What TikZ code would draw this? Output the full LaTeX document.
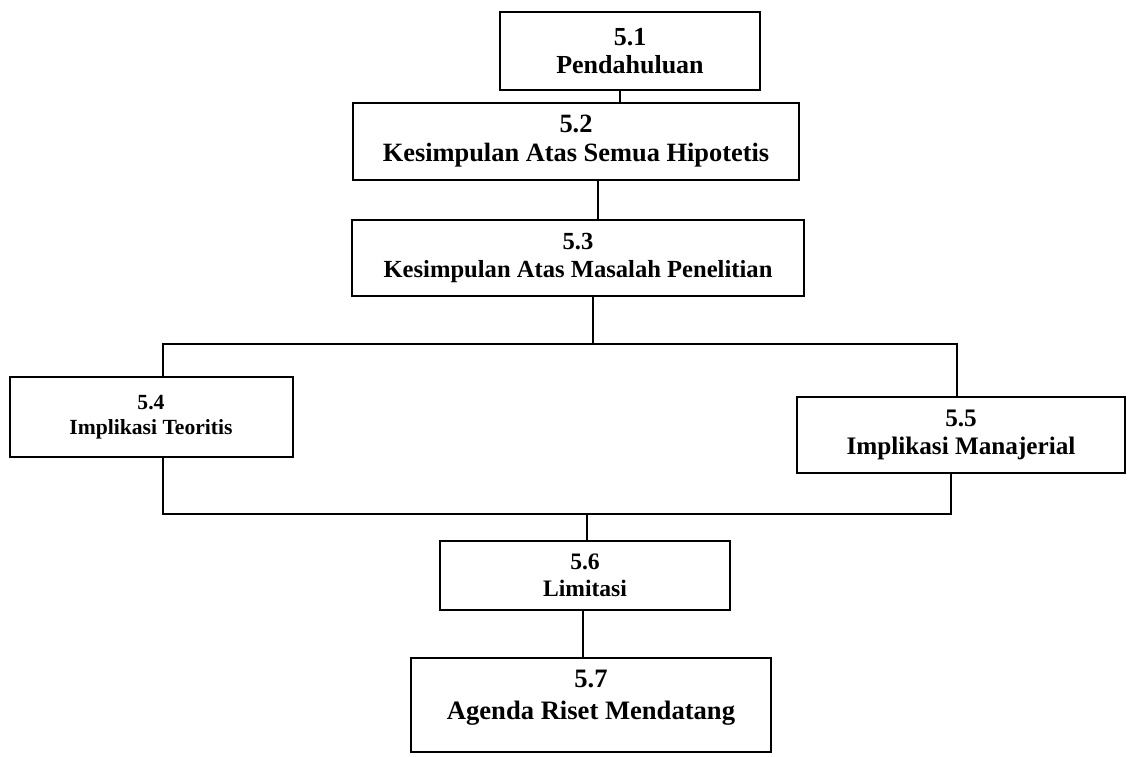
\documentclass[tikz,border=0pt]{standalone}
\usepackage{fontspec}
\setmainfont{Liberation Serif}
\begin{document}
\begin{tikzpicture}[x=0.5pt,y=-0.5pt,
    babbox/.style={draw, line width=1pt, rectangle, align=center, inner sep=2pt, font=\bfseries},
    link/.style={line width=1pt}]
    \useasboundingbox (0,0) rectangle (1130,756);
    \node[babbox, minimum width=130pt, minimum height=39pt, font=\bfseries\fontsize{13}{14}\selectfont] (pendahuluan) at (630,51) {5.1\\Pendahuluan};
    \node[babbox, minimum width=223pt, minimum height=38.5pt, font=\bfseries\fontsize{13.2}{14.5}\selectfont] (hipotesis) at (576,141) {5.2\\Kesimpulan Atas Semua Hipotetis};
    \node[babbox, minimum width=226pt, minimum height=38pt, font=\bfseries\fontsize{12.3}{13.8}\selectfont] (masalah) at (578,258) {5.3\\Kesimpulan Atas Masalah Penelitian};
    \node[babbox, minimum width=141.5pt, minimum height=40pt, font=\bfseries\fontsize{10.8}{12.6}\selectfont] (teoritis) at (151,417) {5.4\\Implikasi Teoritis};
    \node[babbox, minimum width=164pt, minimum height=38pt, font=\bfseries\fontsize{12.6}{14}\selectfont] (manajerial) at (961,435) {5.5\\Implikasi Manajerial};
    \node[babbox, minimum width=145pt, minimum height=34.5pt, font=\bfseries\fontsize{11.8}{13.5}\selectfont] (limitasi) at (585,575) {5.6\\Limitasi};
    \node[babbox, minimum width=180pt, minimum height=47pt, font=\bfseries\fontsize{13.3}{16}\selectfont] (agenda) at (591,705) {5.7\\Agenda Riset Mendatang\\[-6pt]\mbox{}};

    \coordinate (cabang) at (593,344);
    \coordinate (gabung) at (587,514);

    \draw[link] ([xshift=-5pt]pendahuluan.south) -- ([xshift=-5pt]pendahuluan.south |- hipotesis.north);
    \draw[link] ([xshift=10pt]masalah.north) -- ([xshift=10pt]masalah.north |- hipotesis.south);
    \draw[link] (masalah.south -| cabang) -- (cabang);
    \draw[link] ([xshift=6pt]teoritis.north) |- (cabang) -| ([xshift=-2pt]manajerial.north);
    \draw[link] ([xshift=6pt]teoritis.south) |- (gabung) -| ([xshift=-5pt]manajerial.south);
    \draw[link] (gabung) -- (gabung |- limitasi.north);
    \draw[link] ([xshift=-1pt]limitasi.south) -- ([xshift=-1pt]limitasi.south |- agenda.north);
\end{tikzpicture}
\end{document}
